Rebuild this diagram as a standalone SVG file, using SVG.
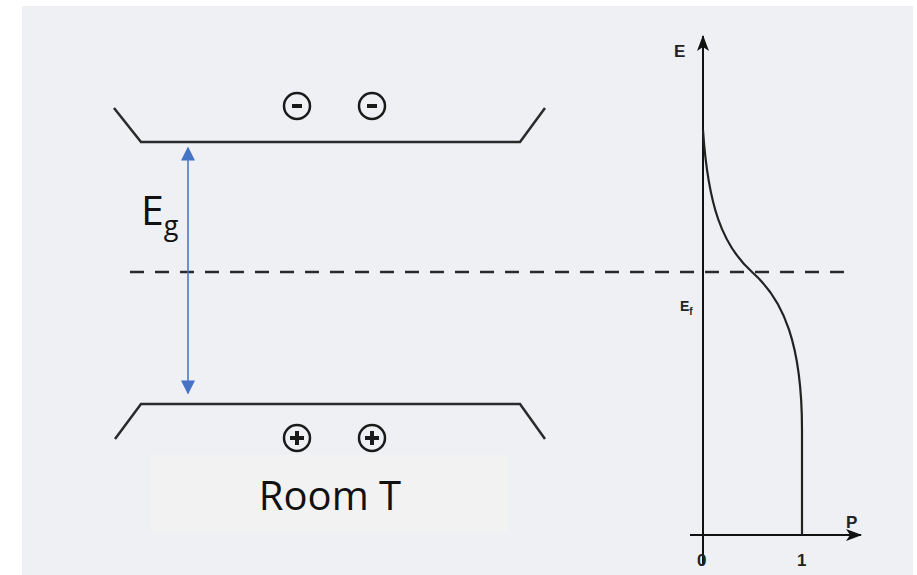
<svg xmlns="http://www.w3.org/2000/svg" width="917" height="575" viewBox="0 0 917 575">
<style>
.band{fill:none;stroke:#2a2a2a;stroke-width:2.5}
.chg{fill:none;stroke:#1a1a1a;stroke-width:2.5}
.ax{fill:none;stroke:#111;stroke-width:2}
.lbl{font-family:"Liberation Sans",Arial,sans-serif;font-weight:bold;fill:#222}
</style>
<defs>
<marker id="blueHead" viewBox="0 0 10 10" refX="9" refY="5" markerWidth="16" markerHeight="14" markerUnits="userSpaceOnUse" orient="auto-start-reverse">
<path d="M0,0 L10,5 L0,10 Z" fill="#4472c4"/>
</marker>
<marker id="blkHead" viewBox="0 0 16 12" refX="15" refY="6" markerWidth="16" markerHeight="12" markerUnits="userSpaceOnUse" orient="auto">
<path d="M0,0 L16,6 L0,12 L4,6 Z" fill="#111"/>
</marker>
</defs>
<rect x="0" y="0" width="917" height="575" fill="#ffffff"/>
<rect x="22" y="6" width="891" height="569" fill="#eef0f4"/>

<g id="conduction-band">
<polyline class="band" points="114,108 141,142 520,142 545,108"/>
<circle class="chg" cx="297" cy="106" r="13"/>
<rect x="292" y="104" width="10" height="4" fill="#1a1a1a"/>
<circle class="chg" cx="372" cy="106" r="13"/>
<rect x="367" y="104" width="10" height="4" fill="#1a1a1a"/>
</g>

<g id="valence-band">
<polyline class="band" points="115,439 141,404 520,404 545,439"/>
<circle class="chg" cx="297" cy="438" r="13"/>
<path d="M290,438 H304 M297,431 V445" stroke="#1a1a1a" stroke-width="4"/>
<circle class="chg" cx="372" cy="438" r="13"/>
<path d="M365,438 H379 M372,431 V445" stroke="#1a1a1a" stroke-width="4"/>
</g>

<g id="fermi-level">
<line x1="130" y1="272" x2="850" y2="272" stroke="#2a2a2a" stroke-width="2.5" stroke-dasharray="14,11"/>
</g>

<g id="gap-label">
<text x="141" y="225" font-family="Open Sans,Liberation Sans,sans-serif" font-size="41" fill="#111">E<tspan font-size="27" dy="10">g</tspan></text>
</g>

<g id="room-t">
<rect x="151" y="455" width="357" height="77" fill="#f2f2f2"/>
<text x="330" y="510" text-anchor="middle" font-family="Open Sans,Liberation Sans,sans-serif" font-size="40" fill="#111">Room T</text>
</g>

<g id="plot">
<line class="ax" x1="703" y1="565" x2="703" y2="36" marker-end="url(#blkHead)"/>
<line class="ax" x1="690" y1="535" x2="861" y2="535" marker-end="url(#blkHead)"/>
<path d="M703,130 C708,205 722,245 752,272 C784,300 802,345 802,430 L802,535" fill="none" stroke="#222" stroke-width="2.2"/>
<text class="lbl" x="674" y="57" font-size="17">E</text>
<text class="lbl" x="680" y="311" font-size="14">E<tspan font-size="10" dy="4">f</tspan></text>
<text class="lbl" x="846" y="528" font-size="17">P</text>
<text class="lbl" x="697" y="566" font-size="17">0</text>
<text class="lbl" x="797" y="566" font-size="17">1</text>
</g>

<g id="connectors">
<line x1="188" y1="148" x2="188" y2="393" stroke="#4472c4" stroke-width="1.5" marker-start="url(#blueHead)" marker-end="url(#blueHead)"/>
</g>
</svg>
